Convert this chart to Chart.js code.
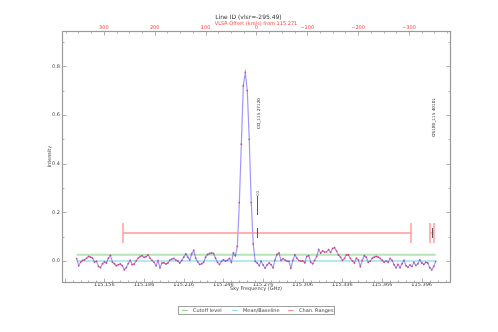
<!DOCTYPE html>
<html><head><meta charset="utf-8">
<script src="https://cdn.jsdelivr.net/npm/chart.js@4/dist/chart.umd.min.js"></script>
<style>html,body{margin:0;padding:0;background:#fff;}#wrap{width:498px;height:332px;}</style>
</head><body><div id="wrap"><canvas id="c" width="498" height="332"></canvas></div>
<script>
// ---- data ----
const freqStart = 115.1351;   // GHz, first channel
const freqStep = 0.0015;      // GHz per channel
const intensity = [
 0.010,-0.019,-0.004,0.003,0.005,0.012,0.019,0.016,0.012,-0.004,
 -0.001,-0.022,-0.027,-0.011,-0.003,-0.008,0.012,0.023,-0.004,-0.011,
 -0.019,-0.015,-0.012,-0.019,-0.036,-0.027,-0.010,0.003,-0.015,-0.012,
 0.001,0.012,0.019,0.022,0.015,0.018,0.025,0.012,0.003,-0.005,
 -0.019,0.001,-0.027,-0.008,-0.007,-0.012,-0.008,0.004,0.008,0.011,
 0.004,0.000,-0.008,0.003,0.016,0.029,0.016,0.005,0.030,0.044,
 0.012,-0.003,-0.014,-0.011,-0.005,0.016,0.027,0.031,0.033,0.031,
 0.012,-0.005,-0.014,-0.001,0.005,0.000,0.003,0.011,-0.005,0.033,
 0.022,0.060,0.240,0.480,0.720,0.775,0.700,0.500,0.240,0.070,
 -0.001,-0.008,-0.019,-0.001,-0.016,-0.029,-0.016,-0.008,-0.015,-0.027,
 0.005,0.027,0.033,0.003,0.010,0.005,0.000,-0.001,-0.029,0.003,
 0.025,0.012,0.003,0.000,0.001,-0.007,0.019,0.022,-0.005,-0.011,
 0.003,0.019,0.047,0.033,0.042,0.037,0.038,0.047,0.036,0.052,
 0.055,0.041,0.025,0.016,0.003,0.011,0.025,0.025,0.011,0.001,
 -0.008,0.012,0.005,-0.022,0.003,0.022,0.016,-0.005,0.000,0.012,
 0.016,0.019,0.016,0.011,0.003,-0.004,0.000,-0.005,0.011,0.003,
 -0.015,-0.027,-0.014,-0.027,-0.011,0.003,-0.019,-0.025,-0.016,-0.022,
 -0.005,-0.018,-0.011,0.005,-0.008,-0.014,-0.005,-0.008,-0.027,-0.036,
 -0.022,-0.001
];
const xTicks = [115.156,115.186,115.216,115.246,115.276,115.306,115.336,115.366,115.396];
const velTicks = [300,200,100,0,-100,-200,-300];
const yTicks = [0.0,0.2,0.4,0.6,0.8];
const cutoffLevel = 0.026;
const baselineLevel = 0.0;
const chanRanges = [[115.1704,115.3877],[115.4023,115.4053]];
const chanLevel = 0.115;
const lineIDs = [
  {freq:115.2712, label:'CO_115.27120', short:'CO'},
  {freq:115.4036, label:'OS180_115.40101', short:''}
];
const restFreq = 115.271;
const titleText = 'Line ID (vlsr=-295.49)';
const topAxisTitle = 'VLSR Offset (km/s) from 115.271';
const legendItems = [
  {text:'Cutoff level', color:'rgb(150,215,150)'},
  {text:'Mean/Baseline', color:'rgb(140,225,235)'},
  {text:'Chan. Ranges', color:'rgb(255,150,150)'}
];

// ---- build ----
const C = 299792.458;
const xMin = 115.124, xMax = 115.4174;
const vel = f => C*(restFreq - f)/restFreq;
const spec = intensity.map((v,i)=>({x: freqStart + i*freqStep, y: v}));
const fEnd = freqStart + (intensity.length-1)*freqStep;
const FONT = 'DejaVu Sans';

const deco = {
  id:'deco',
  afterDraw(chart){
    const ctx = chart.ctx, a = chart.chartArea;
    const xs = chart.scales.x, ys = chart.scales.y, vs = chart.scales.x2;
    const L = Math.round(a.left)+0.5, R = Math.round(a.right)+0.5, T = Math.round(a.top)+0.5, B = Math.round(a.bottom)+0.5;
    ctx.save();
    // inward ticks
    ctx.strokeStyle = '#b0b0b0'; ctx.lineWidth = 1;
    ctx.beginPath();
    for (let k=0;k<xTicks.length+2;k++){
      const base = xTicks[0] + (k-1)*0.03;
      for (let m=0;m<5;m++){
        const f = base + m*0.006;
        if (f < xMin || f > xMax) continue;
        const px = Math.round(xs.getPixelForValue(f))+0.5;
        const len = m===0 ? 4 : 2;
        ctx.moveTo(px,B); ctx.lineTo(px,B-len);
      }
    }
    for (let v=375; v>=-375; v-=25){
      const px = Math.round(vs.getPixelForValue(v))+0.5;
      const len = (v%100===0) ? 4 : 2;
      ctx.moveTo(px,T); ctx.lineTo(px,T+len);
    }
    for (let k=0;k<=9;k++){
      const yv = k*0.1;
      const py = Math.round(ys.getPixelForValue(yv))+0.5;
      const len = (k%2===0) ? 4 : 2;
      ctx.moveTo(L,py); ctx.lineTo(L+len,py);
      ctx.moveTo(R,py); ctx.lineTo(R-len,py);
    }
    ctx.stroke();
    // frame
    ctx.strokeStyle = '#9a9a9a'; ctx.lineWidth = 1.2;
    ctx.strokeRect(L, T, R-L, B-T);
    // channel ranges
    const cy = Math.round(ys.getPixelForValue(chanLevel));
    ctx.strokeStyle = 'rgb(255,150,150)'; ctx.lineWidth = 1.4;
    chanRanges.forEach(r=>{
      const x1 = Math.round(xs.getPixelForValue(r[0])), x2 = Math.round(xs.getPixelForValue(r[1]));
      ctx.beginPath();
      ctx.moveTo(x1,cy); ctx.lineTo(x2,cy);
      ctx.moveTo(x1,cy-10); ctx.lineTo(x1,cy+10);
      ctx.moveTo(x2,cy-10); ctx.lineTo(x2,cy+10);
      ctx.stroke();
    });
    // line ID markers
    ctx.strokeStyle = 'rgb(90,90,90)'; ctx.fillStyle = '#333'; ctx.lineWidth = 1;
    lineIDs.forEach(l=>{
      const px = Math.round(xs.getPixelForValue(l.freq))+0.5;
      ctx.beginPath(); ctx.moveTo(px,cy-5); ctx.lineTo(px,cy+5); ctx.stroke();
      if (l.short){
        ctx.beginPath(); ctx.moveTo(px,cy-37); ctx.lineTo(px,cy-18); ctx.stroke();
        ctx.save(); ctx.translate(px+0.5, cy-37); ctx.rotate(-Math.PI/2);
        ctx.font = '3.5px "'+FONT+'"'; ctx.textAlign='left'; ctx.textBaseline='middle';
        ctx.fillText(l.short,0,0); ctx.restore();
      }
      ctx.save(); ctx.translate(px+1, Math.round(a.top)+67); ctx.rotate(-Math.PI/2);
      ctx.font = '4.2px "'+FONT+'"'; ctx.textAlign='right'; ctx.textBaseline='middle';
      ctx.fillText(l.label,0,0); ctx.restore();
    });
    // legend
    const lx = 178.5, ly = 306.5, lw = 156, lh = 8;
    ctx.fillStyle = '#fff'; ctx.fillRect(lx,ly,lw,lh);
    ctx.strokeStyle = '#a0a0a0'; ctx.lineWidth = 1; ctx.strokeRect(lx,ly,lw,lh);
    const starts = [182, 232, 288];
    ctx.font = '5px "'+FONT+'"'; ctx.textBaseline='middle'; ctx.textAlign='left';
    legendItems.forEach((it,k)=>{
      ctx.strokeStyle = it.color; ctx.lineWidth = 1;
      ctx.beginPath(); ctx.moveTo(starts[k], 310.5); ctx.lineTo(starts[k]+6, 310.5); ctx.stroke();
      ctx.fillStyle = '#444'; ctx.fillText(it.text, starts[k]+11, 310.5);
    });
    ctx.restore();
  }
};

new Chart(document.getElementById('c'), {
  type:'line',
  data:{datasets:[
    {label:'spectrum', data:spec, borderColor:'rgba(100,80,245,0.6)', borderWidth:1.2,
     pointRadius:0.9, pointBackgroundColor:'rgba(210,40,110,0.75)', pointBorderWidth:0,
     tension:0, order:0},
    {label:'Cutoff level', data:[{x:freqStart,y:cutoffLevel},{x:fEnd,y:cutoffLevel}],
     borderColor:'rgba(110,200,110,0.5)', borderWidth:2.2, pointRadius:0, order:2},
    {label:'Mean/Baseline', data:[{x:freqStart,y:baselineLevel},{x:fEnd,y:baselineLevel}],
     borderColor:'rgba(70,205,220,0.55)', borderWidth:1.4, pointRadius:0, order:1}
  ]},
  options:{
    responsive:false, animation:false, devicePixelRatio:1,
    layout:{padding:{left:47,right:48,top:0,bottom:40}},
    plugins:{
      legend:{display:false}, tooltip:{enabled:false},
      title:{display:true, text:titleText, color:'#333', font:{family:FONT,size:6,weight:'normal'}, padding:{top:14,bottom:0}}
    },
    scales:{
      x:{type:'linear', position:'bottom', min:xMin, max:xMax,
        afterBuildTicks:s=>{s.ticks = xTicks.map(v=>({value:v}));},
        afterFit:s=>{s.height=10;},
        ticks:{callback:v=>Number(v).toFixed(3), font:{family:FONT,size:5}, color:'#444', padding:0, maxRotation:0, autoSkip:false},
        grid:{display:false, drawTicks:false}, border:{display:false},
        title:{display:true, text:'Sky Frequency (GHz)', font:{family:FONT,size:5}, color:'#444', padding:0}},
      x2:{type:'linear', position:'top', min:vel(xMax), max:vel(xMin), reverse:true,
        afterBuildTicks:s=>{s.ticks = velTicks.map(v=>({value:v}));},
        afterFit:s=>{s.height=10;},
        ticks:{callback:v=>(v<0?'\u2212'+Math.abs(v):String(v)), font:{family:FONT,size:5}, color:'#ff4040', padding:0, maxRotation:0, autoSkip:false},
        grid:{display:false, drawTicks:false}, border:{display:false},
        title:{display:true, text:topAxisTitle, font:{family:FONT,size:5}, color:'#ff4040', padding:0}},
      y:{type:'linear', position:'left', min:-0.086, max:0.944,
        afterBuildTicks:s=>{s.ticks = yTicks.map(v=>({value:v}));},
        afterFit:s=>{s.width=15;},
        ticks:{callback:v=>Number(v).toFixed(1), font:{family:FONT,size:5}, color:'#444', padding:2},
        grid:{display:false, drawTicks:false}, border:{display:false},
        title:{display:true, text:'Intensity', font:{family:FONT,size:5}, color:'#444', padding:0}}
    }
  },
  plugins:[deco]
});
</script></body></html>
